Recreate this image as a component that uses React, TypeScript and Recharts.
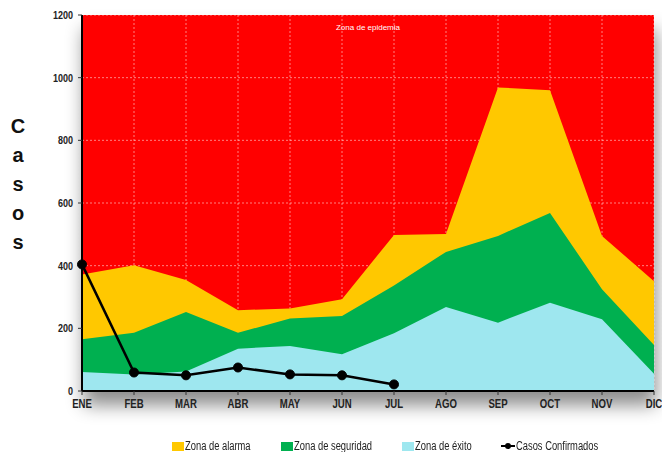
import React from "react";
import {
  ComposedChart,
  Area,
  Line,
  XAxis,
  YAxis,
  CartesianGrid,
  Legend,
  ReferenceLine,
} from "recharts";

const months = ["ENE", "FEB", "MAR", "ABR", "MAY", "JUN", "JUL", "AGO", "SEP", "OCT", "NOV", "DIC"];
const zonaAlarma = [372, 401, 354, 258, 263, 293, 498, 501, 969, 960, 495, 350];
const zonaSeguridad = [165, 186, 252, 186, 231, 239, 337, 444, 495, 568, 325, 147];
const zonaExito = [61, 53, 62, 135, 144, 117, 184, 268, 218, 282, 229, 55];
const casosConfirmados = [404, 59, 50, 75, 53, 50, 21];
const yTicks = [0, 200, 400, 600, 800, 1000, 1200];

const FONT = '"Liberation Sans", Arial, sans-serif';

const data = months.map((m, i) => ({
  mes: m,
  alarma: zonaAlarma[i],
  seguridad: zonaSeguridad[i],
  exito: zonaExito[i],
  casos: casosConfirmados[i],
}));

const legendItems = [
  { label: "Zona de alarma", color: "#FFC800", type: "square", x: 172 },
  { label: "Zona de seguridad", color: "#00B050", type: "square", x: 281 },
  { label: "Zona de éxito", color: "#9EE7EF", type: "square", x: 402 },
  { label: "Casos Confirmados", color: "#000", type: "line", x: 501 },
];

// narrow bold ticks (no condensed font installed, so squeeze horizontally)
function XTick({ x, y, payload }: any) {
  return (
    <g transform={`translate(${x},${y})`}>
      <text transform="scale(0.8,1)" textAnchor="middle" dy="0.71em" fontFamily={FONT} fontSize={12} fontWeight="bold" fill="#222">
        {payload.value}
      </text>
    </g>
  );
}

function YTick({ x, y, payload }: any) {
  return (
    <g transform={`translate(${x},${y})`}>
      <text transform="scale(0.82,1)" textAnchor="end" dy="0.355em" fontFamily={FONT} fontSize={11} fontWeight="bold" fill="#222">
        {payload.value}
      </text>
    </g>
  );
}

function ChartLegend() {
  return (
    <div style={{ position: "relative", height: 12, fontFamily: FONT, fontSize: 12, color: "#222", lineHeight: "12px" }}>
      {legendItems.map((it) => (
        <div
          key={it.label}
          style={{ position: "absolute", left: it.x, top: 0, display: "flex", alignItems: "center", whiteSpace: "nowrap" }}
        >
          {it.type === "square" ? (
            <span style={{ width: 12, height: 9, background: it.color, display: "inline-block", marginRight: 1 }} />
          ) : (
            <svg width={14} height={10} style={{ marginRight: 1 }}>
              <line x1={0} y1={5} x2={14} y2={5} stroke="#000" strokeWidth={2} />
              <circle cx={7} cy={5} r={3} fill="#000" />
            </svg>
          )}
          <span style={{ display: "inline-block", transform: "scaleX(0.78)", transformOrigin: "left center" }}>
            {it.label}
          </span>
        </div>
      ))}
    </div>
  );
}

function CasosLabel() {
  const letters = ["C", "a", "s", "o", "s"];
  return (
    <text x={18} textAnchor="middle" fontFamily={FONT} fontWeight="bold" fontSize={20} fill="#111">
      {letters.map((l, i) => (
        <tspan key={i} x={18} y={133 + i * 29}>
          {l}
        </tspan>
      ))}
    </text>
  );
}

export default function App() {
  return (
    <div style={{ position: "absolute", left: 0, top: 0, width: 662, height: 452, background: "#fff", overflow: "hidden" }}>
      <style>{`.recharts-cartesian-grid { filter: drop-shadow(2px 14px 9px rgba(0,0,0,0.45)); }`}</style>
      <ComposedChart
        width={662}
        height={452}
        data={data}
        margin={{ top: 15, right: 8, left: 0, bottom: 31 }}
      >
        <CartesianGrid
          fill="#FF0000"
          fillOpacity={1}
          stroke="#ffffff"
          strokeOpacity={0.5}
          strokeDasharray="2 2"
        />
        <XAxis
          dataKey="mes"
          height={30}
          tickSize={4}
          tickMargin={4}
          interval={0}
          axisLine={{ stroke: "#000", strokeWidth: 2 }}
          tickLine={{ stroke: "#333" }}
          tick={<XTick />}
        />
        <YAxis
          width={82}
          domain={[0, 1200]}
          ticks={yTicks}
          tickSize={4}
          tickMargin={5}
          axisLine={{ stroke: "#000", strokeWidth: 2 }}
          tickLine={{ stroke: "#333" }}
          tick={<YTick />}
          label={{ content: () => <CasosLabel /> }}
        />
        <ReferenceLine
          y={1200}
          stroke="none"
          label={{
            value: "Zona de epidemia",
            position: "bottom",
            offset: 9,
            fill: "#fff",
            fontSize: 8,
            fontFamily: FONT,
          }}
        />
        <Area
          type="linear"
          dataKey="alarma"
          name="Zona de alarma"
          fill="#FFC800"
          fillOpacity={1}
          stroke="none"
          isAnimationActive={false}
        />
        <Area
          type="linear"
          dataKey="seguridad"
          name="Zona de seguridad"
          fill="#00B050"
          fillOpacity={1}
          stroke="none"
          isAnimationActive={false}
        />
        <Area
          type="linear"
          dataKey="exito"
          name="Zona de éxito"
          fill="#9EE7EF"
          fillOpacity={1}
          stroke="none"
          isAnimationActive={false}
        />
        <Line
          type="linear"
          dataKey="casos"
          name="Casos Confirmados"
          stroke="#000"
          strokeWidth={2.5}
          dot={{ r: 4.5, fill: "#000", stroke: "#000", strokeWidth: 1 }}
          activeDot={false}
          isAnimationActive={false}
        />
        <Legend
          layout="horizontal"
          verticalAlign="middle"
          align="center"
          content={() => <ChartLegend />}
          wrapperStyle={{ top: 440, left: 0, width: 662 }}
        />
      </ComposedChart>
    </div>
  );
}
